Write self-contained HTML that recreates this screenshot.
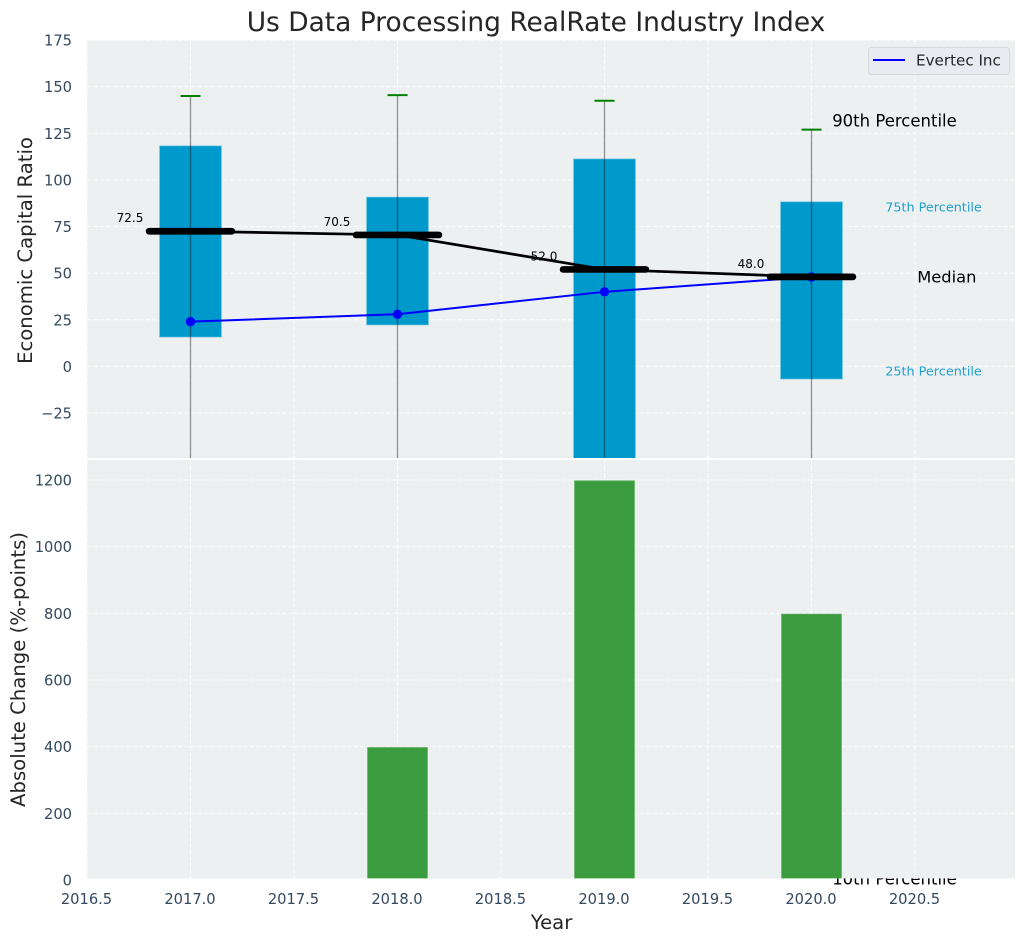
<!DOCTYPE html>
<html lang="en">
<head>
<meta charset="utf-8">
<title>Us Data Processing RealRate Industry Index</title>
<style>
html,body{margin:0;padding:0;background:#fff;}
svg{display:block;font-family:"DejaVu Sans","Liberation Sans",sans-serif;}
.tick{font-size:14.67px;fill:#34495e;}
.axis-title{font-size:19.65px;fill:#262626;}
</style>
</head>
<body>
<svg id="chart" xmlns="http://www.w3.org/2000/svg" width="1026" height="942" viewBox="0 0 1026 942">
  <defs>
    <clipPath id="top-clip"><rect x="87" y="40" width="928" height="418"/></clipPath>
    <clipPath id="bottom-clip"><rect x="87" y="460" width="928" height="418.4"/></clipPath>
  </defs>
  <rect x="87" y="40" width="928" height="418" fill="#ecf0f1"/>
  <g id="top-grid" clip-path="url(#top-clip)"></g>
  <g id="top-marks" clip-path="url(#top-clip)"></g>
  <g id="median-labels"></g>
  <g id="top-lines" clip-path="url(#top-clip)"></g>
  <g>
    <text id="note-p90" font-size="16.5" fill="#000" dominant-baseline="central">90th Percentile</text>
    <text id="note-p75" font-size="12.8" fill="#1f9fcf" dominant-baseline="central">75th Percentile</text>
    <text id="note-median" font-size="16.3" fill="#000" dominant-baseline="central">Median</text>
    <text id="note-p25" font-size="12.8" fill="#1f9fcf" dominant-baseline="central">25th Percentile</text>
    <text id="note-p10" font-size="16.5" fill="#000" dominant-baseline="central">10th Percentile</text>
  </g>
  <rect x="87" y="458" width="928" height="2" fill="#fff"/>
  <rect x="87" y="460" width="928" height="418.4" fill="#ecf0f1"/>
  <g id="bottom-grid" clip-path="url(#bottom-clip)"></g>
  <g id="bottom-marks" clip-path="url(#bottom-clip)"></g>
  <g id="tick-labels"></g>
  <text x="536" y="31" text-anchor="middle" font-size="26.45" fill="#262626">Us Data Processing RealRate Industry Index</text>
  <text class="axis-title" text-anchor="middle" transform="translate(32,250.5) rotate(-90)">Economic Capital Ratio</text>
  <text class="axis-title" text-anchor="middle" transform="translate(25,669.5) rotate(-90)">Absolute Change (%-points)</text>
  <text class="axis-title" x="551.5" y="929" text-anchor="middle">Year</text>
  <g>
    <rect x="868.5" y="47.5" width="141" height="27" rx="3" fill="#eaeaf2" stroke="#d6d6de" stroke-width="1"/>
    <line x1="873" x2="905" y1="60" y2="60" stroke="#0000ff" stroke-width="2"/>
    <text x="916" y="65.5" font-size="15.15" fill="#262626">Evertec Inc</text>
  </g>
</svg>
<script>
const years = [2017, 2018, 2019, 2020];
const p90 = [145, 145.5, 142.5, 127];
const p75 = [118.3, 90.8, 111.3, 88.3];
const medians = [72.5, 70.5, 52.0, 48.0];
const medianLabels = ["72.5", "70.5", "52.0", "48.0"];
const p25 = [15.7, 22.2, -60, -6.8];
const p10 = [-120, -100, -200, -275];
const evertec = [24, 28, 40, 48];
const absoluteChange = [0, 400, 1200, 800];
const xTicks = [2016.5, 2017, 2017.5, 2018, 2018.5, 2019, 2019.5, 2020, 2020.5];
const xTickLabels = ["2016.5", "2017.0", "2017.5", "2018.0", "2018.5", "2019.0", "2019.5", "2020.0", "2020.5"];
const topTicks = [-25, 0, 25, 50, 75, 100, 125, 150, 175];
const topTickLabels = ["\u221225", "0", "25", "50", "75", "100", "125", "150", "175"];
const bottomTicks = [0, 200, 400, 600, 800, 1000, 1200];
const bottomTickLabels = ["0", "200", "400", "600", "800", "1000", "1200"];

const NS = "http://www.w3.org/2000/svg";
function xPos(v) { return 190.5 + (v - 2017) * 207; }
function yTop(v) { return 366.4 - v * 1.8646; }
function yBottom(v) { return 880 - v / 3; }
function make(tag, attrs, parent) {
  const el = document.createElementNS(NS, tag);
  for (const k in attrs) el.setAttribute(k, attrs[k]);
  parent.appendChild(el);
  return el;
}
const topGrid = document.getElementById("top-grid");
const bottomGrid = document.getElementById("bottom-grid");
const topMarks = document.getElementById("top-marks");
const topLines = document.getElementById("top-lines");
const bottomMarks = document.getElementById("bottom-marks");
const tickGroup = document.getElementById("tick-labels");
const labelGroup = document.getElementById("median-labels");
const gridStyle = { stroke: "#ffffff", "stroke-width": 1.1, "stroke-dasharray": "4.5 2", opacity: 0.85 };

xTicks.forEach(function (t, i) {
  const a = make("line", Object.assign({ x1: xPos(t), x2: xPos(t), y1: 40, y2: 458 }, gridStyle), topGrid);
  
  
  const b = make("line", Object.assign({ x1: xPos(t), x2: xPos(t), y1: 460, y2: 879 }, gridStyle), bottomGrid);
  
  
  const label = make("text", { x: xPos(t) - 0.5, y: 904, "text-anchor": "middle", class: "tick" }, tickGroup);
  label.textContent = xTickLabels[i];
  
  
});
topTicks.forEach(function (t, i) {
  const a = make("line", Object.assign({ x1: 87, x2: 1015, y1: yTop(t), y2: yTop(t) }, gridStyle), topGrid);
  
  
  const label = make("text", { x: 72, y: yTop(t) + 5.5, "text-anchor": "end", class: "tick" }, tickGroup);
  label.textContent = topTickLabels[i];
  
  
});
bottomTicks.forEach(function (t, i) {
  const a = make("line", Object.assign({ x1: 87, x2: 1015, y1: yBottom(t), y2: yBottom(t) }, gridStyle), bottomGrid);
  
  
  const label = make("text", { x: 72, y: yBottom(t) + 5.5, "text-anchor": "end", class: "tick" }, tickGroup);
  label.textContent = bottomTickLabels[i];
  
  
});

years.forEach(function (year, i) {
  const cx = xPos(year);
  const box = make("rect", { x: cx - 31, y: yTop(p75[i]), width: 62, height: yTop(p25[i]) - yTop(p75[i]), fill: "#0099cc", stroke: "#7fcde6", "stroke-opacity": 0.6, "stroke-width": 1 }, topMarks);
  
  
  const whisker = make("line", { x1: cx, x2: cx, y1: yTop(p90[i]), y2: yTop(p10[i]), stroke: "#000", "stroke-opacity": 0.42, "stroke-width": 1.3 }, topMarks);
  
  
  const cap = make("line", { x1: cx - 10, x2: cx + 10, y1: yTop(p90[i]), y2: yTop(p90[i]), stroke: "#008000", "stroke-width": 2 }, topMarks);
  
  

  const label = make("text", { x: cx - 60.5, y: yTop(medians[i]) - 9, "text-anchor": "middle", "font-size": 12, fill: "#000" }, labelGroup);
  label.textContent = medianLabels[i];
  
  

  if (absoluteChange[i] > 0) {
    const bar = make("rect", { x: cx - 30, y: yBottom(absoluteChange[i]) + 0.7, width: 60, height: yBottom(0) - yBottom(absoluteChange[i]), fill: "#3b9b3f", stroke: "#64b267", "stroke-opacity": 0.6, "stroke-width": 1 }, bottomMarks);
    
    
  }
});

const bluePoints = years.map(function (y, i) { return xPos(y) + "," + yTop(evertec[i]); }).join(" ");
const blueLine = make("polyline", { points: bluePoints, fill: "none", stroke: "#0000ff", "stroke-width": 2 }, topLines);


years.forEach(function (y, i) {
  const dot = make("circle", { cx: xPos(y), cy: yTop(evertec[i]), r: 4.7, fill: "#0000ff" }, topLines);
  
  
});
const medianPoints = years.map(function (y, i) { return xPos(y) + "," + yTop(medians[i]); }).join(" ");
const medianLine = make("polyline", { points: medianPoints, fill: "none", stroke: "#000", "stroke-width": 2.7 }, topLines);


years.forEach(function (y, i) {
  const bar = make("line", { x1: xPos(y - 0.2), x2: xPos(y + 0.2), y1: yTop(medians[i]), y2: yTop(medians[i]), stroke: "#000", "stroke-width": 6.7, "stroke-linecap": "round" }, topLines);
  
  
});

const last = years.length - 1;
function place(id, x, y) {
  const el = document.getElementById(id);
  el.setAttribute("x", x);
  el.setAttribute("y", y);
}
place("note-p90", xPos(years[last]) + 20.7, yTop(p90[last]) - 8.5);
place("note-p75", xPos(years[last]) + 73.7, yTop(p75[last]) + 6);
place("note-median", xPos(years[last]) + 105.7, yTop(medians[last]));
place("note-p25", xPos(years[last]) + 73.7, yTop(p25[last]) - 7);
place("note-p10", xPos(years[last]) + 20.7, yTop(p10[last]));
</script>
</body>
</html>
